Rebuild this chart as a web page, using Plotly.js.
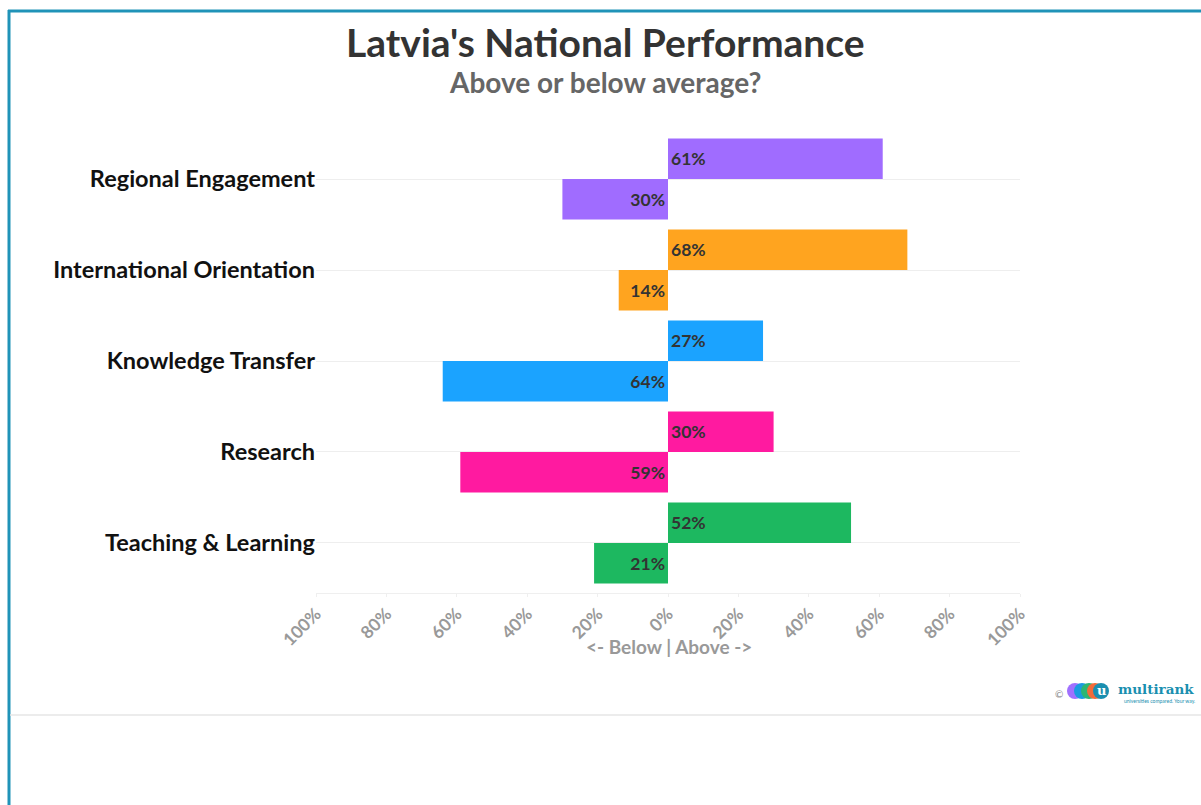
<!DOCTYPE html>
<html><head><meta charset="utf-8">
<script src="https://cdn.plot.ly/plotly-3.0.1.min.js"></script>
<style>html,body{margin:0;padding:0;background:#fff;}#chart{width:1201px;height:805px;}</style>
</head><body><div id="chart"></div>
<script>
const categories = ["Regional Engagement","International Orientation","Knowledge Transfer","Research","Teaching & Learning"];
const aboveValues = [61, 68, 27, 30, 52];
const belowValues = [30, 14, 64, 59, 21];
const barColors = ["#A06CFF","#FFA41F","#1BA3FF","#FF1AA0","#1DB860"];
const tickValues = [-100,-80,-60,-40,-20,0,20,40,60,80,100];
const tickLabels = ["100%","80%","60%","40%","20%","0%","20%","40%","60%","80%","100%"];
const xAxisTitle = "&lt;- Below | Above -&gt;";

const FONT = '"Source Sans Pro", Lato, "Open Sans", sans-serif';
const L = 316, R = 1020, T = 129, B = 593;
const px = x => (x - L) / (R - L);
const py = y => (B - y) / (B - T);

const common = {
  type: 'bar', orientation: 'h', y: categories, width: 0.445,
  textposition: 'inside', insidetextanchor: 'start', constraintext: 'none',
  textfont: {family: FONT, size: 17.5, color: '#333', weight: 'bold'},
  marker: {color: barColors}, hoverinfo: 'skip', showlegend: false, cliponaxis: false
};
const traces = [
  Object.assign({}, common, {x: aboveValues, text: aboveValues.map(v => v + '%'), offset: -0.445}),
  Object.assign({}, common, {x: belowValues.map(v => -v), text: belowValues.map(v => v + '%'), offset: 0})
];

const shapes = [
  {type:'line', xref:'paper', yref:'paper', x0:px(8), x1:px(1205), y0:py(11), y1:py(11), line:{color:'#2093B8', width:3}},
  {type:'line', xref:'paper', yref:'paper', x0:px(9), x1:px(9), y0:py(10), y1:py(810), line:{color:'#2093B8', width:3}},
  {type:'line', xref:'paper', yref:'paper', x0:px(10), x1:px(1205), y0:py(715), y1:py(715), line:{color:'#E6E6E6', width:1.5}}
];
const logoCircles = [[1075,'#A070FF'],[1082,'#1A9BE0'],[1089,'#2BB673'],[1095,'#F26B3A'],[1101,'#1A8FB0']];
logoCircles.forEach(([cx, c]) => {
  shapes.push({type:'circle', xref:'paper', yref:'paper', x0:px(cx-8), x1:px(cx+8), y0:py(683), y1:py(699), fillcolor:c, line:{width:0}});
});

const annotations = [
  {text:"Latvia's National Performance", xref:'paper', yref:'paper', x:px(605), y:py(42), showarrow:false, xanchor:'center', yanchor:'middle', font:{family:FONT, size:39, color:'#333', weight:'bold'}},
  {text:"Above or below average?", xref:'paper', yref:'paper', x:px(605), y:py(82), showarrow:false, xanchor:'center', yanchor:'middle', font:{family:FONT, size:28, color:'#666', weight:'bold'}},
  {text:xAxisTitle, xref:'paper', yref:'paper', x:px(669), y:py(646), showarrow:false, xanchor:'center', yanchor:'middle', font:{family:FONT, size:19, color:'#999', weight:'bold'}},
  {text:"©", xref:'paper', yref:'paper', x:px(1059), y:py(694), showarrow:false, xanchor:'center', yanchor:'middle', font:{family:FONT, size:10, color:'#888'}},
  {text:"u", xref:'paper', yref:'paper', x:px(1101), y:py(690), showarrow:false, xanchor:'center', yanchor:'middle', font:{family:'DejaVu Serif', size:13, color:'#fff', weight:'bold'}},
  {text:"multirank", xref:'paper', yref:'paper', x:px(1116), y:py(689), showarrow:false, xanchor:'left', yanchor:'middle', font:{family:'DejaVu Serif', size:13.5, color:'#1A8FB0', weight:'bold'}},
  {text:"universities compared. Your way.", xref:'paper', yref:'paper', x:px(1197), y:py(701), showarrow:false, xanchor:'right', yanchor:'middle', font:{family:FONT, size:5, color:'#1A8FB0'}}
];

const layout = {
  width: 1201, height: 805,
  margin: {l: L, r: 1201 - R, t: T, b: 805 - B, pad: 0},
  paper_bgcolor: '#fff', plot_bgcolor: '#fff',
  barmode: 'overlay',
  font: {family: FONT},
  xaxis: {
    range: [-100, 100], tickmode: 'array', tickvals: tickValues, ticktext: tickLabels,
    tickangle: -45, tickfont: {family: FONT, size: 17.5, color: '#999', weight: 'bold'},
    showgrid: false, zeroline: false, showline: true, linecolor: '#EFEFEF', linewidth: 1,
    ticks: 'outside', ticklen: 3, tickcolor: '#EFEFEF',
    fixedrange: true
  },
  yaxis: {
    type: 'category', range: [4.55, -0.55],
    tickfont: {family: FONT, size: 23.5, color: '#111', weight: 'bold'},
    showgrid: true, gridcolor: '#EEEEEE', gridwidth: 1, zeroline: false, showline: false,
    ticks: '', ticklabelstandoff: 0, fixedrange: true
  },
  shapes: shapes, annotations: annotations, hovermode: false
};
Plotly.newPlot('chart', traces, layout, {displayModeBar: false, staticPlot: true});
</script>
</body></html>
